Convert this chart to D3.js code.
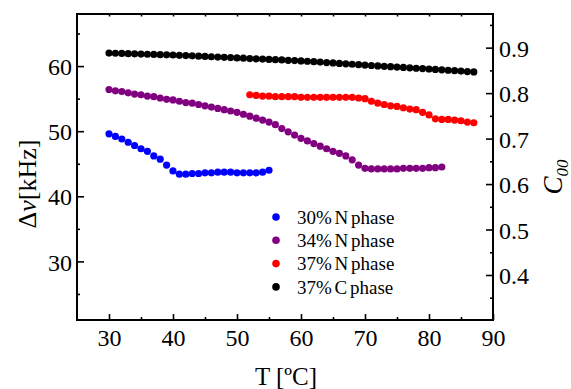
<!DOCTYPE html>
<html>
<head>
<meta charset="utf-8">
<script src="https://cdn.jsdelivr.net/npm/d3@7"></script>
<style>
  body { margin: 0; background: #fff; }
</style>
</head>
<body>
<div id="chart"></div>
<script>
// temperatures (ºC) and splittings (kHz)
const t30N = [30,31,32,33,34,35,36,37,38,39,40,41,42,43,44,45,46,47,48,49,50,51,52,53,54,55];
const dv30N = [49.6,49.2,48.8,48.3,47.8,47.3,46.9,46.2,45.7,44.8,43.9,43.4,43.4,43.5,43.5,43.6,43.6,43.7,43.7,43.7,43.6,43.6,43.6,43.6,43.7,44.0];

const t34N = [30,31,32,33,34,35,36,37,38,39,40,41,42,43,44,45,46,47,48,49,50,51,52,53,54,55,56,57,58,59,60,61,62,63,64,65,66,67,68,69,70,71,72,73,74,75,76,77,78,79,80,81,82];
const dv34N = [56.4,56.2,56.1,55.9,55.7,55.6,55.4,55.3,55.1,54.9,54.8,54.6,54.4,54.3,54.1,53.9,53.7,53.5,53.3,53.1,52.9,52.6,52.3,52.0,51.7,51.4,51.0,50.4,49.9,49.4,48.9,48.5,48.1,47.7,47.3,46.9,46.6,46.2,45.6,44.8,44.3,44.2,44.2,44.2,44.2,44.2,44.3,44.3,44.3,44.3,44.4,44.4,44.5];

const t37N = [52,53,54,55,56,57,58,59,60,61,62,63,64,65,66,67,68,69,70,71,72,73,74,75,76,77,78,79,80,81,82,83,84,85,86,87];
const dv37N = [55.6,55.5,55.4,55.4,55.3,55.3,55.3,55.3,55.2,55.2,55.2,55.2,55.2,55.2,55.2,55.2,55.2,55.1,55.0,54.6,54.3,54.1,53.9,53.8,53.6,53.4,53.3,52.9,52.5,51.9,51.8,51.8,51.7,51.6,51.4,51.3];

const t37C = [30,31,32,33,34,35,36,37,38,39,40,41,42,43,44,45,46,47,48,49,50,51,52,53,54,55,56,57,58,59,60,61,62,63,64,65,66,67,68,69,70,71,72,73,74,75,76,77,78,79,80,81,82,83,84,85,86,87];
const dv37C = [62.00,61.97,61.94,61.91,61.88,61.85,61.82,61.79,61.76,61.73,61.70,61.66,61.61,61.57,61.52,61.48,61.43,61.39,61.34,61.30,61.25,61.21,61.16,61.12,61.07,61.03,60.98,60.94,60.89,60.85,60.80,60.74,60.67,60.61,60.54,60.48,60.41,60.35,60.28,60.22,60.15,60.09,60.03,59.97,59.91,59.85,59.79,59.73,59.67,59.61,59.55,59.49,59.42,59.36,59.29,59.23,59.16,59.10];

const seriesNames = ["30% N phase", "34% N phase", "37% N phase", "37% C phase"];
const seriesColors = ["#0000ff", "#800080", "#ff0000", "#000000"];

const xTicks = [30, 40, 50, 60, 70, 80, 90];
const xMinor = [35, 45, 55, 65, 75, 85];
const xTop = [30, 35, 40, 45, 50, 55, 60, 65, 70, 75, 80, 85];
const yTicks = [30, 40, 50, 60];
const yMinor = [25, 35, 45, 55, 65];
const cTicks = [0.4, 0.5, 0.6, 0.7, 0.8, 0.9];
const cMinor = [0.35, 0.45, 0.55, 0.65, 0.75, 0.85, 0.95];

const serif = "'Liberation Serif', 'Times New Roman', serif";
const width = 571, height = 389;
const pLeft = 77, pRight = 493, pTop = 14, pBottom = 320;

const svg = d3.select("#chart").append("svg")
    .attr("width", width)
    .attr("height", height)
    .style("font-family", serif);

const x = d3.scaleLinear().domain([25, 90]).range([pLeft, pRight]);
const y = d3.scaleLinear().domain([21, 68]).range([pBottom, pTop]);
const yc = d3.scaleLinear().domain([0.301, 0.974]).range([pBottom, pTop]);

// ticks, all pointing into the plot
function drawAxis(axis, tx, ty) {
    const g = svg.append("g").attr("transform", `translate(${tx},${ty})`).call(axis);
    g.attr("font-family", null);
    g.select(".domain").remove();
    g.selectAll(".tick line").attr("stroke", "#000").attr("stroke-width", 1.6);
    g.selectAll(".tick text")
        .style("font-family", serif)
        .style("font-size", "24px")
        .attr("fill", "#000");
    return g;
}

drawAxis(d3.axisBottom(x).tickValues(xTicks).tickSize(-6).tickFormat(d3.format("d")), 0, pBottom)
    .selectAll(".tick text").attr("dy", "0.71em").attr("y", 9);
drawAxis(d3.axisBottom(x).tickValues(xMinor).tickSize(-3).tickFormat(""), 0, pBottom);
drawAxis(d3.axisTop(x).tickValues(xTop).tickSize(-2.5).tickFormat(""), 0, pTop);

drawAxis(d3.axisLeft(y).tickValues(yTicks).tickSize(-7).tickFormat(d3.format("d")), pLeft, 0)
    .selectAll(".tick text").attr("x", -5).attr("dy", "0.36em");
drawAxis(d3.axisLeft(y).tickValues(yMinor).tickSize(-3).tickFormat(""), pLeft, 0);

drawAxis(d3.axisRight(yc).tickValues(cTicks).tickSize(-7).tickFormat(d3.format(".1f")), pRight, 0)
    .selectAll(".tick text").attr("x", 6).attr("dy", "0.36em");
drawAxis(d3.axisRight(yc).tickValues(cMinor).tickSize(-3).tickFormat(""), pRight, 0);

// frame
svg.append("rect")
    .attr("x", pLeft).attr("y", pTop)
    .attr("width", pRight - pLeft).attr("height", pBottom - pTop)
    .attr("fill", "none").attr("stroke", "#000").attr("stroke-width", 2);

// data
const series = [
    { t: t30N, v: dv30N },
    { t: t34N, v: dv34N },
    { t: t37N, v: dv37N },
    { t: t37C, v: dv37C }
];

series.forEach(function(s, i) {
    svg.append("g")
        .selectAll("circle")
        .data(s.t.map((t, j) => [t, s.v[j]]))
        .join("circle")
        .attr("cx", d => x(d[0]))
        .attr("cy", d => y(d[1]))
        .attr("r", 3.6)
        .attr("fill", seriesColors[i]);
});

// legend
const legend = svg.append("g").attr("transform", "translate(276,217)");
seriesNames.forEach(function(name, i) {
    legend.append("circle")
        .attr("cx", 0).attr("cy", i * 23.3)
        .attr("r", 3.8)
        .attr("fill", seriesColors[i]);
    legend.append("text")
        .attr("x", 21).attr("y", i * 23.3)
        .attr("dy", "0.35em")
        .style("font-family", serif)
        .style("font-size", "19px")
        .style("word-spacing", "-2px")
        .text(name);
});

// axis titles
svg.append("text")
    .attr("x", 286).attr("y", 385)
    .attr("text-anchor", "middle")
    .style("font-family", serif)
    .style("font-size", "25px")
    .text("T [ºC]");

const yl = svg.append("text")
    .attr("transform", "translate(36,184) rotate(-90)")
    .attr("text-anchor", "middle")
    .style("font-family", serif)
    .style("font-size", "26px");
yl.append("tspan").text("Δ");
yl.append("tspan").style("font-style", "italic").text("ν");
yl.append("tspan").text("[kHz]");

const cl = svg.append("text")
    .attr("transform", "translate(562,177) rotate(-90)")
    .attr("text-anchor", "middle")
    .style("font-family", serif)
    .style("font-size", "27px")
    .style("font-style", "italic");
cl.append("tspan").text("C");
cl.append("tspan").attr("dy", 6).style("font-size", "17px").text("00");
</script>
</body>
</html>
